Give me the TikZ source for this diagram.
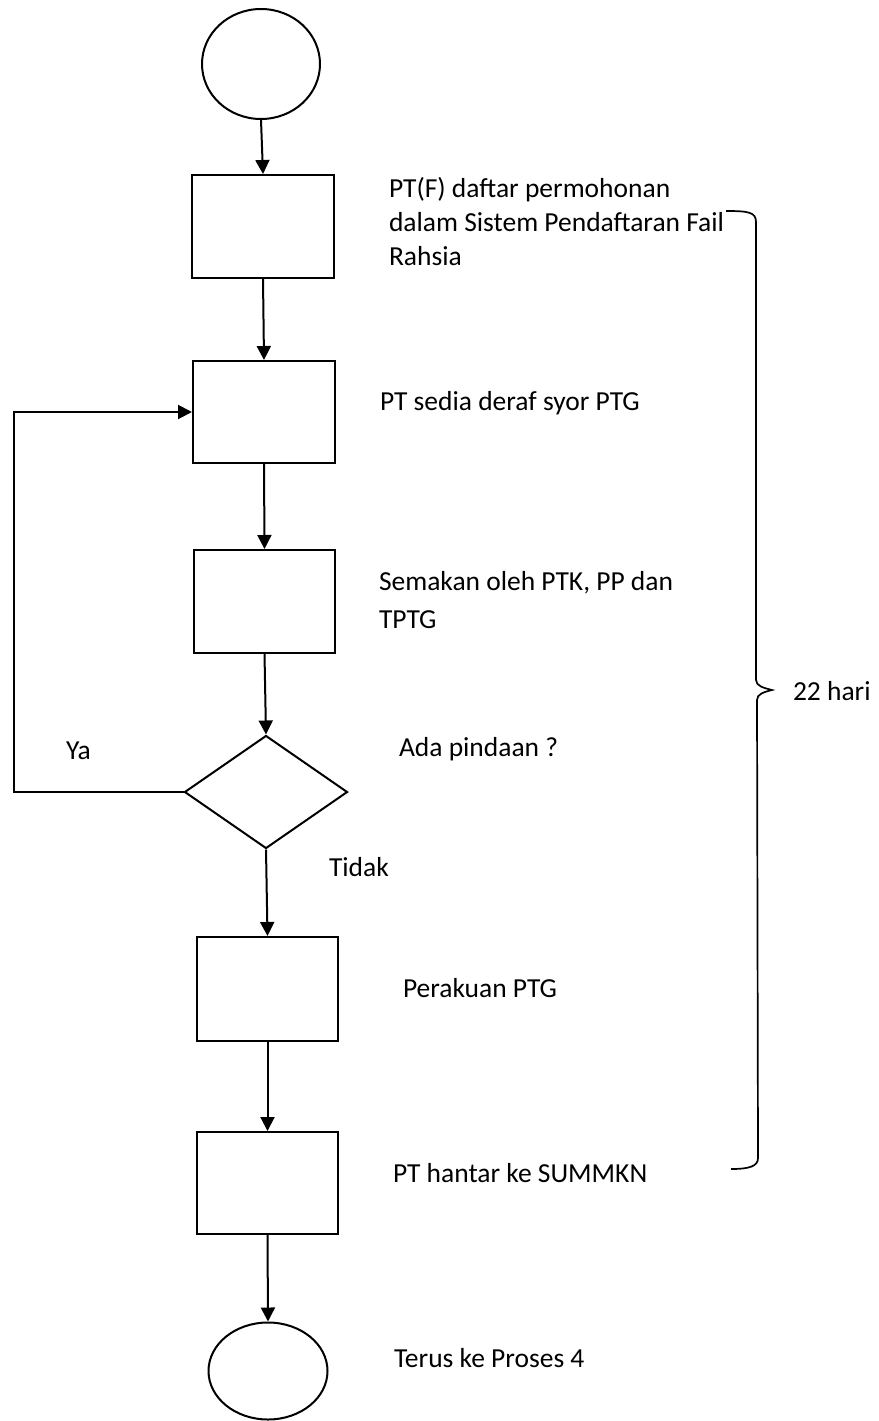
\documentclass[tikz,border=0pt]{standalone}
\usepackage{fontspec}
\setmainfont{Carlito}
\usetikzlibrary{shapes.geometric,arrows.meta}
\begin{document}
\begin{tikzpicture}[x=1pt,y=-1pt,
  line width=2pt,
  every node/.style={inner sep=0pt},
  proc/.style={draw,rectangle,minimum width=142pt,minimum height=103pt},
  term/.style={draw,ellipse,minimum width=118pt,minimum height=110pt},
  dec/.style={draw,diamond,minimum width=163pt,minimum height=113pt},
  lbl/.style={anchor=west,align=left,font=\fontsize{27.5}{34}\selectfont},
  arr/.style={-{Triangle[length=14pt,width=14pt]}}]
\useasboundingbox (0,0) rectangle (878,1421);
% shapes
\node[term] (s) at (261,64) {};
\node[proc] (b1) at (263,226.5) {};
\node[proc,minimum height=102pt] (b2) at (264,412) {};
\node[proc,minimum width=141pt] (b3) at (264.5,601.5) {};
\node[dec] (d) at (266,792) {};
\node[proc,minimum width=141pt,minimum height=104pt] (b4) at (267.5,989) {};
\node[proc,minimum width=141pt,minimum height=102pt] (b5) at (267.5,1183) {};
\node[term,minimum width=119pt,minimum height=97pt] (e) at (268,1371) {};
% labels
\node[lbl] (t1) at (388,222) {PT(F) daftar permohonan\\dalam Sistem Pendaftaran Fail\\Rahsia};
\node[lbl] (t2) at (379,403) {PT sedia deraf syor PTG};
\node[lbl,font=\fontsize{27.5}{38}\selectfont] (t3) at (378,600) {Semakan oleh PTK, PP dan\\TPTG};
\node[lbl] (t4) at (398,749) {Ada pindaan ?};
\node[lbl] (ya) at (65,751) {Ya};
\node[lbl] (td) at (328,867) {Tidak};
\node[lbl] (t5) at (402,988) {Perakuan PTG};
\node[lbl] (t6) at (392,1173) {PT hantar ke SUMMKN};
\node[lbl] (t7) at (393,1358) {Terus ke Proses 4};
\node[lbl] (h) at (792,691) {22 hari};
% connectors
\draw[arr] (s.south) -- (b1.north);
\draw[arr] (b1.south) -- (b2.north);
\draw[arr] (b2.south) -- (b3.north);
\draw[arr] (b3.south) -- (d.north);
\draw[arr] (d.south) -- (b4.north);
\draw[arr] (b4.south) -- (b5.north);
\draw[arr] (b5.south) -- (e.north);
\coordinate (fb) at (14,792);
\draw[arr] (d.west) -- (fb) |- (b2.west);
% brace
\draw[line width=1.7pt] (726,211) .. controls (748,211) and (756,212) .. (756,222)
  -- (756,680) .. controls (756,686) and (764,688) .. (772,690)
  .. controls (764,692) and (757,694) .. (757,700)
  -- (758,1158) .. controls (758,1166) and (750,1169) .. (731,1169);
\end{tikzpicture}
\end{document}
